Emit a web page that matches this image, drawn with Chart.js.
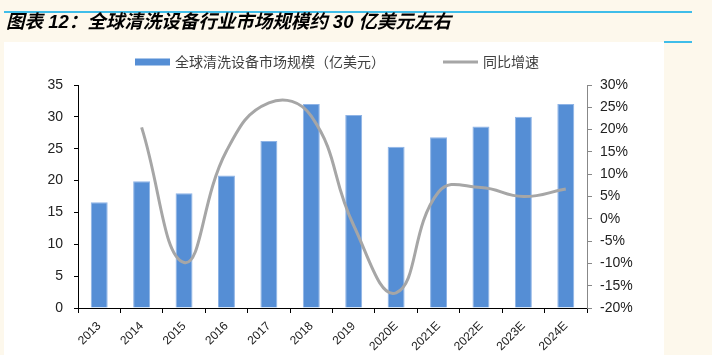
<!DOCTYPE html>
<html>
<head>
<meta charset="utf-8">
<script src="https://cdn.jsdelivr.net/npm/chart.js@4.4.1/dist/chart.umd.min.js"></script>
<style>
  html, body { margin: 0; padding: 0; background: #fdf8ec; }
  #wrap { width: 712px; height: 355px; position: relative; }
  canvas { display: block; }
</style>
</head>
<body>
<div id="wrap"><canvas id="c" width="712" height="355"></canvas></div>
<script>
const titleText = '图表 12：全球清洗设备行业市场规模约 30 亿美元左右';
const categories = ['2013','2014','2015','2016','2017','2018','2019','2020E','2021E','2022E','2023E','2024E'];
const marketSize = [16.6, 19.9, 18.0, 20.8, 26.2, 32.0, 30.3, 25.3, 26.8, 28.5, 30.0, 32.0];
const growthPct = [null, 20.5, -9.8, 15.2, 26.0, 23.0, -1.5, -16.6, 6.0, 7.0, 5.0, 6.7];
const seriesNames = ['全球清洗设备市场规模（亿美元）', '同比增速'];
const leftTicks = [0, 5, 10, 15, 20, 25, 30, 35];
const rightTicks = [-20, -15, -10, -5, 0, 5, 10, 15, 20, 25, 30];

const BAR_COLOR = '#558ed5';
const LINE_COLOR = '#a6a6a6';

const decor = {
  id: 'decor',
  beforeDraw(chart) {
    const ctx = chart.ctx;
    ctx.save();
    ctx.fillStyle = '#fdf8ec';
    ctx.fillRect(0, 0, chart.width, chart.height);
    ctx.fillStyle = '#ffffff';
    ctx.fillRect(4, 42, 660, chart.height - 42);
    ctx.strokeStyle = '#00a9e8';
    ctx.lineWidth = 1.5;
    ctx.beginPath();
    ctx.moveTo(4, 12); ctx.lineTo(692, 12);
    ctx.moveTo(664, 42); ctx.lineTo(692, 42);
    ctx.stroke();
    // title
    ctx.fillStyle = '#000000';
    ctx.font = "italic bold 18.5px 'Liberation Sans', 'Noto Sans CJK SC', sans-serif";
    ctx.textBaseline = 'middle';
    ctx.textAlign = 'left';
    ctx.fillText(titleText, 6, 23);
    ctx.restore();
  },
  afterDraw(chart) {
    const ctx = chart.ctx;
    ctx.save();
    ctx.font = "14px 'Noto Sans CJK SC', sans-serif";
    ctx.textBaseline = 'middle';
    ctx.textAlign = 'left';
    const y = 62;
    ctx.fillStyle = BAR_COLOR;
    ctx.fillRect(135, y - 3.5, 35, 7);
    ctx.fillStyle = '#404040';
    ctx.fillText(seriesNames[0], 175, y);
    ctx.strokeStyle = LINE_COLOR;
    ctx.lineWidth = 3;
    ctx.beginPath();
    ctx.moveTo(443, y); ctx.lineTo(478, y);
    ctx.stroke();
    ctx.fillText(seriesNames[1], 483, y);
    ctx.restore();
  }
};

const tickFont = { family: "'Liberation Sans', Arial, sans-serif", size: 14 };

new Chart(document.getElementById('c'), {
  type: 'bar',
  data: {
    labels: categories,
    datasets: [
      {
        type: 'line',
        label: seriesNames[1],
        data: growthPct,
        yAxisID: 'y1',
        borderColor: LINE_COLOR,
        borderWidth: 3,
        pointRadius: 0,
        tension: 0.45,
        spanGaps: true,
        order: 0
      },
      {
        type: 'bar',
        label: seriesNames[0],
        data: marketSize,
        yAxisID: 'y',
        backgroundColor: BAR_COLOR,
        borderColor: '#8fb4e6',
        borderWidth: { left: 1, right: 1, top: 1, bottom: 0 },
        barPercentage: 0.4,
        categoryPercentage: 1.0,
        order: 1
      }
    ]
  },
  options: {
    responsive: false,
    animation: false,
    devicePixelRatio: 1,
    layout: { padding: { top: 85, left: 0, right: 0, bottom: 0 } },
    plugins: {
      legend: { display: false },
      title: { display: false },
      tooltip: { enabled: false }
    },
    scales: {
      x: {
        grid: { display: true, drawOnChartArea: false, drawTicks: true, tickLength: 5, color: '#000', offset: true },
        border: { color: '#000', width: 1 },
        ticks: {
          font: { family: "'Liberation Sans', Arial, sans-serif", size: 12 },
          color: '#222',
          minRotation: 45,
          maxRotation: 45,
          padding: 6,
          autoSkip: false
        },
        afterFit(axis) { axis.height = 47; }
      },
      y: {
        position: 'left',
        min: 0, max: 35,
        afterBuildTicks(axis) { axis.ticks = leftTicks.map(v => ({ value: v })); },
        grid: { display: true, drawOnChartArea: false, drawTicks: true, tickLength: 4, color: '#000' },
        border: { color: '#000', width: 1 },
        ticks: { font: tickFont, color: '#222', padding: 11 },
        afterFit(axis) { axis.width = 78; }
      },
      y1: {
        position: 'right',
        min: -20, max: 30,
        afterBuildTicks(axis) { axis.ticks = rightTicks.map(v => ({ value: v })); },
        grid: { display: true, drawOnChartArea: false, drawTicks: true, tickLength: 5, color: '#888' },
        border: { color: '#888', width: 1 },
        ticks: { font: tickFont, color: '#222', padding: 8, callback: v => v + '%' },
        afterFit(axis) { axis.width = 125; }
      }
    }
  },
  plugins: [decor]
});
</script>
</body>
</html>
